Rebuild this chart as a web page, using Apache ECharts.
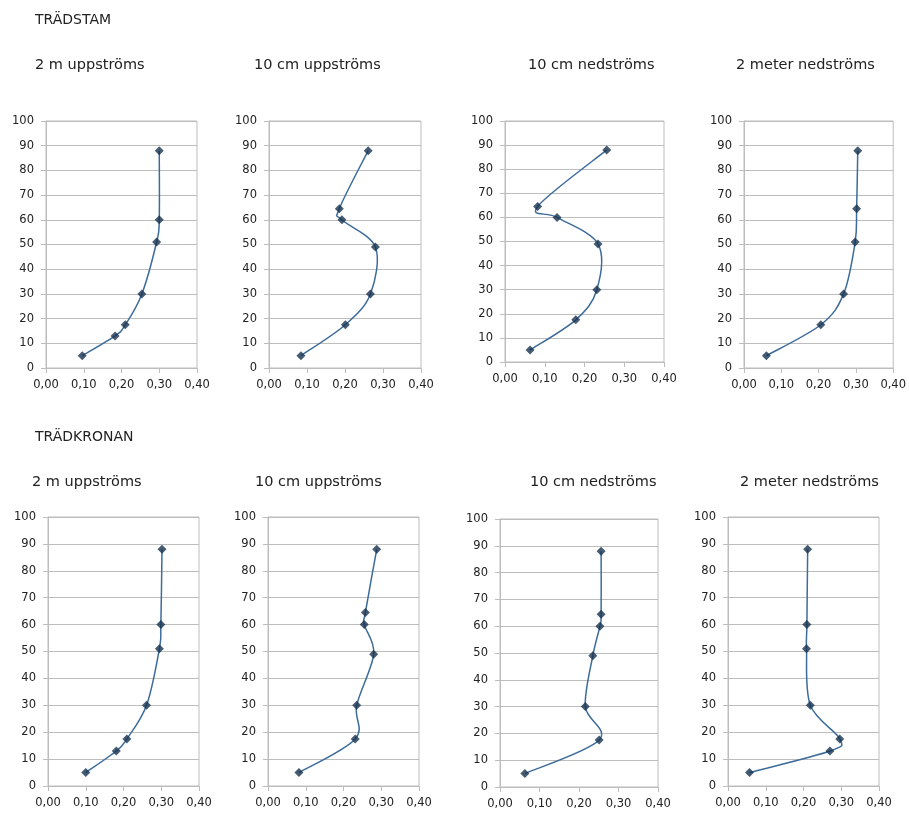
<!DOCTYPE html>
<html>
<head>
<meta charset="utf-8">
<script src="https://cdn.jsdelivr.net/npm/echarts@6/dist/echarts.min.js"></script>
<style>
html,body{margin:0;padding:0;background:#fff;}
#c{width:909px;height:814px;}
</style>
</head>
<body>
<div id="c"></div>
<script>
// ---- data ----
const sectionTitles = ['TRÄDSTAM', 'TRÄDKRONAN'];
const panelTitles = ['2 m uppströms', '10 cm uppströms', '10 cm nedströms', '2 meter nedströms'];
const xTicks = [0, 0.1, 0.2, 0.3, 0.4];
const yTicks = [0, 10, 20, 30, 40, 50, 60, 70, 80, 90, 100];

// TRÄDSTAM
const stam1Depth = [5, 13, 17.5, 30, 51, 60, 88];
const stam1Value = [0.096, 0.183, 0.210, 0.254, 0.293, 0.300, 0.300];
const stam2Depth = [5, 17.5, 30, 49, 60, 64.5, 88];
const stam2Value = [0.084, 0.201, 0.267, 0.280, 0.192, 0.185, 0.261];
const stam3Depth = [5, 17.5, 30, 49, 60, 64.5, 88];
const stam3Value = [0.063, 0.178, 0.231, 0.234, 0.131, 0.082, 0.256];
const stam4Depth = [5, 17.5, 30, 51, 64.5, 88];
const stam4Value = [0.060, 0.206, 0.267, 0.298, 0.302, 0.305];

// TRÄDKRONAN
const krona1Depth = [5, 13, 17.5, 30, 51, 60, 88];
const krona1Value = [0.100, 0.181, 0.209, 0.261, 0.295, 0.299, 0.302];
const krona2Depth = [5, 17.5, 30, 49, 60, 64.5, 88];
const krona2Value = [0.082, 0.231, 0.235, 0.280, 0.255, 0.258, 0.288];
const krona3Depth = [5, 17.5, 30, 49, 60, 64.5, 88];
const krona3Value = [0.063, 0.251, 0.216, 0.235, 0.253, 0.256, 0.256];
const krona4Depth = [5, 13, 17.5, 30, 51, 60, 88];
const krona4Value = [0.057, 0.270, 0.296, 0.218, 0.208, 0.209, 0.211];

const panelsData = [
  [stam1Value, stam1Depth], [stam2Value, stam2Depth], [stam3Value, stam3Depth], [stam4Value, stam4Depth],
  [krona1Value, krona1Depth], [krona2Value, krona2Depth], [krona3Value, krona3Depth], [krona4Value, krona4Depth]
];

// ---- layout ----
const grids = [
  {left: 46, top: 121, width: 151, height: 247},
  {left: 269, top: 121, width: 152, height: 247},
  {left: 505, top: 121, width: 159, height: 241},
  {left: 744, top: 121, width: 151, height: 247},
  {left: 48, top: 517, width: 151, height: 269},
  {left: 268, top: 517, width: 151, height: 269},
  {left: 500, top: 519, width: 158, height: 268},
  {left: 728, top: 517, width: 151, height: 269}
];
const panelTitlePos = [
  [35, 66], [254, 66], [528, 66], [736, 66],
  [32, 483], [255, 483], [530, 483], [740, 483]
];
const sectionPos = [[35, 21], [35, 438]];

const FONT = 'DejaVu Sans';
const txt = '#222222';
const gridCol = '#bdbdbd';
const lineCol = '#3d6c9b';
const markCol = '#17324f';

const titles = [];
sectionTitles.forEach((t, i) => {
  titles.push({text: t, left: sectionPos[i][0], top: sectionPos[i][1] - 8, padding: 0,
    textStyle: {fontFamily: FONT, fontSize: 14, fontWeight: 'normal', color: txt}});
});
for (let i = 0; i < 8; i++) {
  titles.push({text: panelTitles[i % 4], left: panelTitlePos[i][0], top: panelTitlePos[i][1] - 8, padding: 0,
    textStyle: {fontFamily: FONT, fontSize: 14.5, fontWeight: 'normal', color: txt}});
}

const panelPts = panelsData.map(p => p[0].map((v, k) => [v, p[1][k]]));

// Spreadsheet-style smoothed curve (Catmull-Rom Bezier, tension 1/6), computed in pixel space
function makeRenderer(pts) {
  return function (params, api) {
    const i = params.dataIndex;
    const n = pts.length;
    if (i >= n - 1) return null;
    const P = j => api.coord(pts[Math.max(0, Math.min(n - 1, j))]);
    const p0 = P(i - 1), p1 = P(i), p2 = P(i + 1), p3 = P(i + 2);
    return {
      type: 'bezierCurve',
      shape: {
        x1: p1[0], y1: p1[1], x2: p2[0], y2: p2[1],
        cpx1: p1[0] + (p2[0] - p0[0]) / 6, cpy1: p1[1] + (p2[1] - p0[1]) / 6,
        cpx2: p2[0] - (p3[0] - p1[0]) / 6, cpy2: p2[1] - (p3[1] - p1[1]) / 6
      },
      style: {stroke: lineCol, lineWidth: 1.5, fill: null}
    };
  };
}

const series = [];
panelPts.forEach((pts, i) => {
  series.push({
    type: 'custom', coordinateSystem: 'cartesian2d', xAxisIndex: i, yAxisIndex: i,
    data: pts, encode: {x: 0, y: 1}, renderItem: makeRenderer(pts), silent: true, z: 2
  });
  series.push({
    type: 'scatter', xAxisIndex: i, yAxisIndex: i, data: pts,
    symbol: 'diamond', symbolSize: 9, itemStyle: {color: markCol}, z: 3
  });
});

const option = {
  animation: false,
  backgroundColor: '#ffffff',
  title: titles,
  grid: grids.map(g => Object.assign({show: true, borderColor: gridCol, borderWidth: 1, containLabel: false}, g)),
  xAxis: grids.map((g, i) => ({
    type: 'value', gridIndex: i, min: xTicks[0], max: xTicks[xTicks.length - 1], interval: 0.1,
    axisLine: {show: true, lineStyle: {color: gridCol}},
    axisTick: {show: true, length: 5, lineStyle: {color: gridCol}},
    splitLine: {show: false},
    axisLabel: {fontFamily: FONT, fontSize: 11.5, color: txt, margin: 11,
      formatter: v => v.toFixed(2).replace('.', ',')}
  })),
  yAxis: grids.map((g, i) => ({
    type: 'value', gridIndex: i, min: yTicks[0], max: yTicks[yTicks.length - 1], interval: 10,
    axisLine: {show: true, lineStyle: {color: gridCol}},
    axisTick: {show: true, length: 5, lineStyle: {color: gridCol}},
    splitLine: {show: true, lineStyle: {color: gridCol}},
    axisLabel: {fontFamily: FONT, fontSize: 11.5, color: txt, margin: 12}
  })),
  series: series
};

const chart = echarts.init(document.getElementById('c'), null, {renderer: 'canvas'});
chart.setOption(option);
</script>
</body>
</html>
